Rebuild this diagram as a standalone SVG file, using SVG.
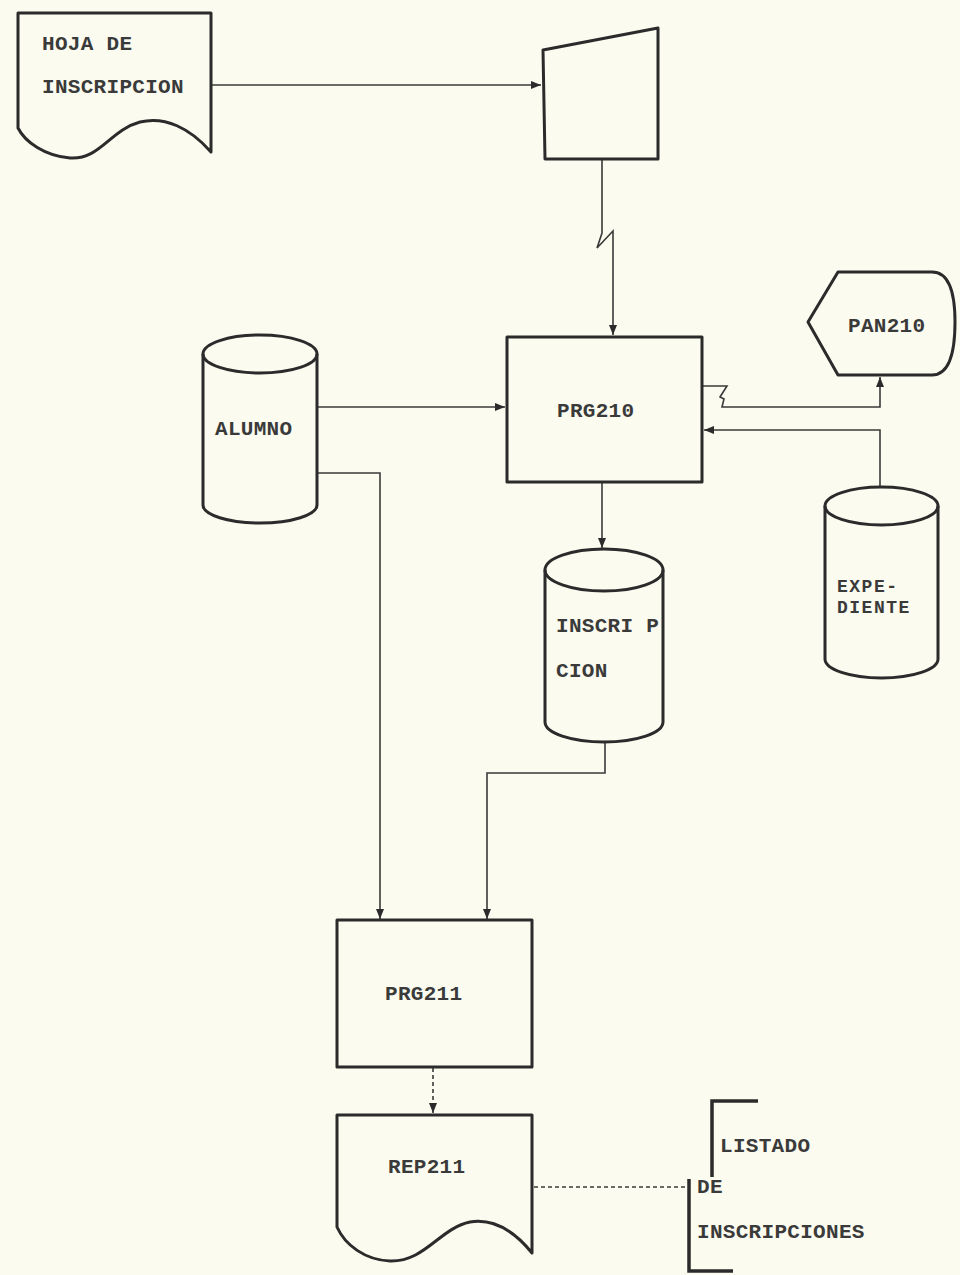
<svg xmlns="http://www.w3.org/2000/svg" width="960" height="1275" viewBox="0 0 960 1275">
<defs>
<style>
.node{fill:none;stroke:#2b2b2b;stroke-width:3;stroke-linejoin:round}
.conn{fill:none;stroke:#3a3a3a;stroke-width:1.6}
.dash{fill:none;stroke:#3a3a3a;stroke-width:1.6;stroke-dasharray:4 3}
.br{fill:none;stroke:#2b2b2b;stroke-width:3.5}
.t{font-family:"Liberation Mono","DejaVu Sans Mono",monospace;font-weight:bold;font-size:21px;letter-spacing:0.3px;fill:#3a3a3a}
.s{font-size:18px;letter-spacing:1.5px}
</style>
<marker id="ah" viewBox="0 0 10 10" refX="10" refY="5" markerWidth="10" markerHeight="10" markerUnits="userSpaceOnUse" orient="auto">
<path d="M0,1 L10,5 L0,9 Z" fill="#2b2b2b"/>
</marker>
</defs>
<rect width="960" height="1275" fill="#fbfbef"/>

<g id="connectors">
<path class="conn" d="M212,85 H541" marker-end="url(#ah)"/>
<path class="conn" d="M602,160 V233 L597,248 L613,231 V335" marker-end="url(#ah)"/>
<path class="conn" d="M318,407 H505" marker-end="url(#ah)"/>
<path class="conn" d="M702,386 H727 L720,397 L724,399 L722,407 H880 V377" marker-end="url(#ah)"/>
<path class="conn" d="M880,487 V430 H704" marker-end="url(#ah)"/>
<path class="conn" d="M602,483 V548" marker-end="url(#ah)"/>
<path class="conn" d="M318,473 H380 V919" marker-end="url(#ah)"/>
<path class="conn" d="M605,742 V773 H487 V919" marker-end="url(#ah)"/>
<path class="dash" d="M433,1068 V1113" marker-end="url(#ah)"/>
<path class="dash" d="M534,1187 H689"/>
</g>

<g id="hoja">
<path class="node" d="M18,13 H211 V152 C190,128 165,116 140,122 C110,130 100,160 70,158 C45,156 25,142 18,128 Z"/>
<text class="t" x="42" y="50">HOJA DE</text>
<text class="t" x="42" y="93">INSCRIPCION</text>
</g>

<g id="manual">
<path class="node" d="M543,50 L658,28 V159 H545 Z"/>
</g>

<g id="prg210">
<rect class="node" x="507" y="337" width="195" height="145"/>
<text class="t" x="557" y="417">PRG210</text>
</g>

<g id="pan210">
<path class="node" d="M808,322 L838,272 H932 Q955,272 955,322 Q955,375 932,375 H838 Z"/>
<text class="t" x="848" y="332">PAN210</text>
</g>

<g id="alumno">
<path class="node" d="M203,354 V505 A57,18 0 0 0 317,505 V354"/>
<ellipse class="node" cx="260" cy="354" rx="57" ry="19"/>
<text class="t" x="215" y="435">ALUMNO</text>
</g>

<g id="expediente">
<path class="node" d="M825,506 V659 A56.5,19 0 0 0 938,659 V506"/>
<ellipse class="node" cx="881.5" cy="506" rx="56.5" ry="19"/>
<text class="t s" x="837" y="592">EXPE-</text>
<text class="t s" x="837" y="613">DIENTE</text>
</g>

<g id="inscripcion">
<path class="node" d="M545,570 V722 A59,20 0 0 0 663,722 V570"/>
<ellipse class="node" cx="604" cy="570" rx="59" ry="21"/>
<text class="t" x="556" y="632">INSCRI P</text>
<text class="t" x="556" y="677">CION</text>
</g>

<g id="prg211">
<rect class="node" x="337" y="920" width="195" height="147"/>
<text class="t" x="385" y="1000">PRG211</text>
</g>

<g id="rep211">
<path class="node" d="M337,1115 H532 V1253 C515,1232 495,1218 470,1222 C440,1228 425,1262 390,1261 C365,1260 345,1245 337,1227 Z"/>
<text class="t" x="388" y="1173">REP211</text>
</g>

<g id="nota">
<path class="br" d="M758,1101 H712 V1177"/>
<path class="br" d="M689,1179 V1271 H733"/>
<text class="t" x="720" y="1152">LISTADO</text>
<text class="t" x="697" y="1193">DE</text>
<text class="t" x="697" y="1238" letter-spacing="2">INSCRIPCIONES</text>
</g>
</svg>
